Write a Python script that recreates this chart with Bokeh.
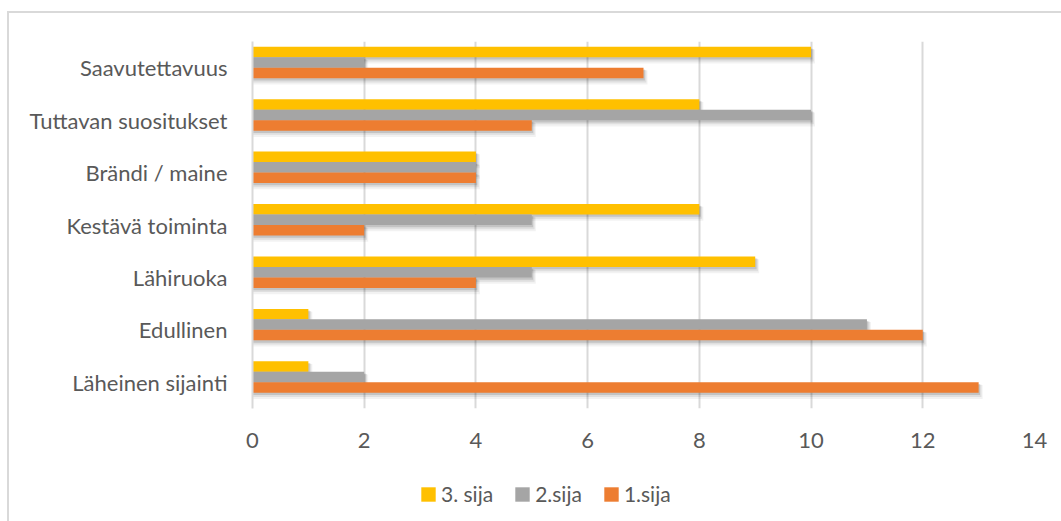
from bokeh.plotting import figure
from bokeh.layouts import column
from bokeh.models import Range1d, FixedTicker, Legend, LegendItem, ColumnDataSource
from bokeh.embed import file_html
from bokeh.resources import INLINE

# Categories listed bottom-to-top as they appear on the vertical axis
categories = ["Läheinen sijainti", "Edullinen", "Lähiruoka", "Kestävä toiminta",
              "Brändi / maine", "Tuttavan suositukset", "Saavutettavuus"]
sija1 = [13, 12, 4, 2, 4, 5, 7]
sija2 = [2, 11, 5, 5, 4, 10, 2]
sija3 = [1, 1, 9, 8, 4, 8, 10]
x_ticks = [0, 2, 4, 6, 8, 10, 12, 14]

# (label, values, offset of the bar inside its category band, colour)
series = [
    ("3. sija", sija3, 0.3, "#FFC000"),
    ("2.sija", sija2, 0.1, "#A5A5A5"),
    ("1.sija", sija1, -0.1, "#ED7D31"),
]

TEXT = "#595959"
GRID = "#D9D9D9"
FONT = "Lato"

# page geometry: the chart area is framed by a 2px border at (7, 11)
PAGE_W, PAGE_H = 1061, 521
OX, OY = 9, 13
W = PAGE_W - OX
MAIN_H = 470 - OY
LEG_H = PAGE_H - 470
left, right, top, bottom = 252, 1034, 41, 408

p = figure(width=W, height=MAIN_H, output_backend="svg", toolbar_location=None,
           x_range=Range1d(0, 14), y_range=Range1d(-0.5, 6.5),
           min_border_left=left - OX, min_border_right=PAGE_W - right,
           min_border_top=top - OY, min_border_bottom=OY + MAIN_H - bottom)
p.outline_line_color = None
p.background_fill_color = "white"
p.border_fill_color = "white"

px_x = 14 / (right - left)
px_y = 7 / (bottom - top)
bar_h = 0.2
idx = list(range(len(categories)))

# soft drop shadows under the bars
for name, vals, off, color in series:
    for dx, dy, a, grow in [(4.0, 4.5, 0.05, 3.5), (2.8, 3.2, 0.08, 2.0), (1.4, 2.0, 0.12, 0.6)]:
        src = ColumnDataSource(dict(y=[i + off - dy * px_y for i in idx],
                                    r=[v + dx * px_x for v in vals]))
        p.hbar(y="y", left=0, right="r", height=bar_h + grow * px_y, source=src,
               fill_color="black", fill_alpha=a, line_color=None)

for name, vals, off, color in series:
    src = ColumnDataSource(dict(y=[i + off for i in idx], r=vals))
    p.hbar(y="y", left=0, right="r", height=bar_h, source=src,
           fill_color=color, line_color=None)

p.xaxis.ticker = FixedTicker(ticks=x_ticks)
p.xaxis.axis_line_color = None
p.xaxis.major_tick_line_color = None
p.xaxis.minor_tick_line_color = None
p.xaxis.major_label_standoff = 18
p.xaxis.major_label_text_font = FONT
p.xaxis.major_label_text_font_size = "22px"
p.xaxis.major_label_text_color = TEXT

p.yaxis.ticker = FixedTicker(ticks=idx)
p.yaxis.major_label_overrides = {i: c for i, c in enumerate(categories)}
p.yaxis.axis_line_color = GRID
p.yaxis.axis_line_width = 2
p.yaxis.major_tick_line_color = None
p.yaxis.minor_tick_line_color = None
p.yaxis.major_label_standoff = 19
p.yaxis.major_label_text_font = FONT
p.yaxis.major_label_text_font_size = "22px"
p.yaxis.major_label_text_color = TEXT

p.xgrid.ticker = FixedTicker(ticks=x_ticks)
p.xgrid.grid_line_color = GRID
p.xgrid.grid_line_width = 2
p.ygrid.grid_line_color = None

# legend strip underneath the chart; its proxy bars sit outside the visible range
leg = figure(width=W, height=LEG_H, output_backend="svg", toolbar_location=None,
             x_range=Range1d(0, 1), y_range=Range1d(0, 1),
             x_axis_location=None, y_axis_location=None,
             min_border_left=0, min_border_right=0, min_border_top=0, min_border_bottom=0)
leg.outline_line_color = None
leg.xgrid.grid_line_color = None
leg.ygrid.grid_line_color = None
leg.border_fill_color = "white"

items = []
for name, vals, off, color in series:
    r = leg.hbar(y="y", left=0, right="r", height=0.1,
                 source=ColumnDataSource(dict(y=[-10 for _ in vals], r=vals)),
                 fill_color=color, line_color=None)
    items.append(LegendItem(label=name, renderers=[r]))

# the strip's frame is aligned with the main frame (x = 252 on the page);
# area glyphs fill 80% of the glyph box, so a 17.5px box gives a 14px square
legend = Legend(items=items, orientation="horizontal", location=(419 - left, 15),
                glyph_width=18, glyph_height=18, label_standoff=4, spacing=20,
                label_text_font=FONT, label_text_font_size="21px",
                label_text_color=TEXT, border_line_color=None,
                background_fill_alpha=0, padding=0, margin=0)
leg.add_layout(legend, "center")

page = column(p, leg, spacing=0, margin=(OY - 2, 0, 0, OX - 2),
              styles={"border-top": f"2px solid {GRID}", "border-left": f"2px solid {GRID}"})

open("out.html", "w").write(file_html(page, INLINE))
